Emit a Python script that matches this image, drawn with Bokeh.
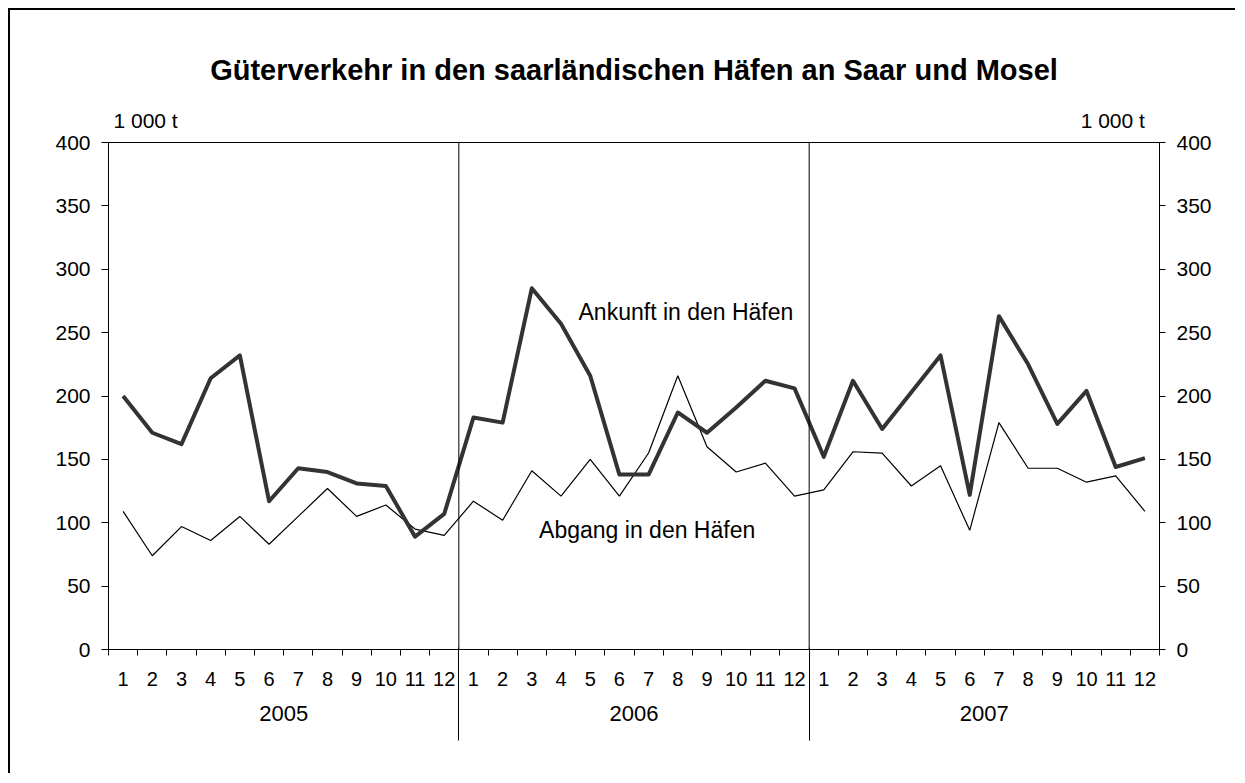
from bokeh.plotting import figure
from bokeh.models import Range1d, LinearAxis, FixedTicker, Span, Label, ColumnDataSource
from bokeh.embed import file_html
from bokeh.resources import INLINE

# ---- data (1 000 t) ----
years = ["2005", "2006", "2007"]
months = [1, 2, 3, 4, 5, 6, 7, 8, 9, 10, 11, 12]
ankunft = [200, 171, 162, 214, 232, 117, 143, 140, 131, 129, 89, 107,
           183, 179, 285, 257, 216, 138, 138, 187, 171, 191, 212, 206,
           152, 212, 174, 203, 232, 122, 263, 225, 178, 204, 144, 151]
abgang = [109, 74, 97, 86, 105, 83, 105, 127, 105, 114, 95, 90,
          117, 102, 141, 121, 150, 121, 155, 216, 160, 140, 147, 121,
          126, 156, 155, 129, 145, 94, 179, 143, 143, 132, 137, 109]
y_ticks = [0, 50, 100, 150, 200, 250, 300, 350, 400]
unit_label = "1 000 t"
title = "Güterverkehr in den saarländischen Häfen an Saar und Mosel"
label_ankunft = "Ankunft in den Häfen"
label_abgang = "Abgang in den Häfen"

n = len(years) * len(months)
xs = list(range(1, n + 1))
src = ColumnDataSource(dict(x=xs, ankunft=ankunft, abgang=abgang))

FONT = "Liberation Sans"

p = figure(width=1227, height=765,
           x_range=Range1d(0.5, n + 0.5), y_range=Range1d(0, 400),
           output_backend="svg", toolbar_location=None,
           x_axis_location=None, y_axis_location=None,
           min_border_left=98, min_border_right=78,
           min_border_top=132, min_border_bottom=126)
p.styles = {"border-top": "2px solid black", "border-left": "2px solid black",
            "margin-top": "8px", "margin-left": "8px"}
p.grid.visible = False
p.outline_line_color = "black"
p.outline_line_width = 1
p.background_fill_color = "white"
p.border_fill_color = "white"


def plain(ax):
    ax.axis_line_color = None
    ax.major_tick_line_color = None
    ax.minor_tick_line_color = None
    ax.major_tick_out = 0
    ax.major_tick_in = 0
    ax.minor_tick_out = 0
    ax.minor_tick_in = 0
    ax.major_label_text_font = FONT
    ax.major_label_text_color = "black"


# y axes
for side in ("left", "right"):
    ax = LinearAxis(ticker=FixedTicker(ticks=y_ticks))
    ax.major_tick_out = 7 if side == "left" else 6
    ax.major_tick_in = 0
    ax.minor_tick_out = 0
    ax.minor_tick_in = 0
    ax.major_label_standoff = 11
    ax.major_label_text_font = FONT
    ax.major_label_text_font_size = "21px"
    ax.major_label_text_color = "black"
    ax.axis_line_color = "black"
    ax.major_tick_line_color = "black"
    p.add_layout(ax, side)

# month axis
centers = xs
bounds = [i + 0.5 for i in range(0, n + 1)]
mx = LinearAxis(ticker=FixedTicker(ticks=centers, minor_ticks=bounds),
                major_label_overrides={c: str(months[(c - 1) % 12]) for c in centers})
mx.major_tick_out = 0
mx.major_tick_in = 0
mx.minor_tick_out = 6
mx.minor_tick_in = 0
mx.minor_tick_line_color = "black"
mx.axis_line_color = "black"
mx.major_label_standoff = 16
mx.major_label_text_font = FONT
mx.major_label_text_font_size = "20px"
mx.major_label_text_color = "black"
p.add_layout(mx, "below")

# year axis
year_centers = [12 * k + 6.5 for k in range(len(years))]
year_bounds = [12 * k + 0.5 for k in range(1, len(years))]
yx = LinearAxis(ticker=FixedTicker(ticks=year_centers),
                major_label_overrides={c: y for c, y in zip(year_centers, years)})
plain(yx)
yx.major_label_standoff = 17
yx.major_label_text_font_size = "22px"
p.add_layout(yx, "below")

# year separators below the axis
sx = LinearAxis(ticker=FixedTicker(ticks=[], minor_ticks=year_bounds))
plain(sx)
sx.minor_tick_line_color = "black"
sx.minor_tick_in = 76
sx.minor_tick_out = 17
p.add_layout(sx, "below")

for b in year_bounds:
    p.add_layout(Span(location=b, dimension="height", line_color="black", line_width=1))

# unit labels above the frame
unit_pos = [1.77, n - 1.1]
ua = LinearAxis(ticker=FixedTicker(ticks=unit_pos),
                major_label_overrides={u: unit_label for u in unit_pos})
plain(ua)
ua.major_label_standoff = 11
ua.major_label_text_font_size = "21px"
p.add_layout(ua, "above")

# chart title
title_pos = [(n + 1) / 2]
ta = LinearAxis(ticker=FixedTicker(ticks=title_pos),
                major_label_overrides={title_pos[0]: title})
plain(ta)
ta.major_label_standoff = 20
ta.major_label_text_font_size = "29px"
ta.major_label_text_font_style = "bold"
p.add_layout(ta, "above")

p.line("x", "abgang", source=src, line_color="black", line_width=1.2)
p.line("x", "ankunft", source=src, line_color="#333333", line_width=4, line_join="round")

p.add_layout(Label(x=16.6, y=266, text=label_ankunft,
                   text_align="left", text_baseline="middle",
                   text_font=FONT, text_font_size="23px", text_color="black"))
p.add_layout(Label(x=15.25, y=94.5, text=label_abgang,
                   text_align="left", text_baseline="middle",
                   text_font=FONT, text_font_size="23px", text_color="black"))

open("out.html", "w").write(file_html(p, INLINE))
